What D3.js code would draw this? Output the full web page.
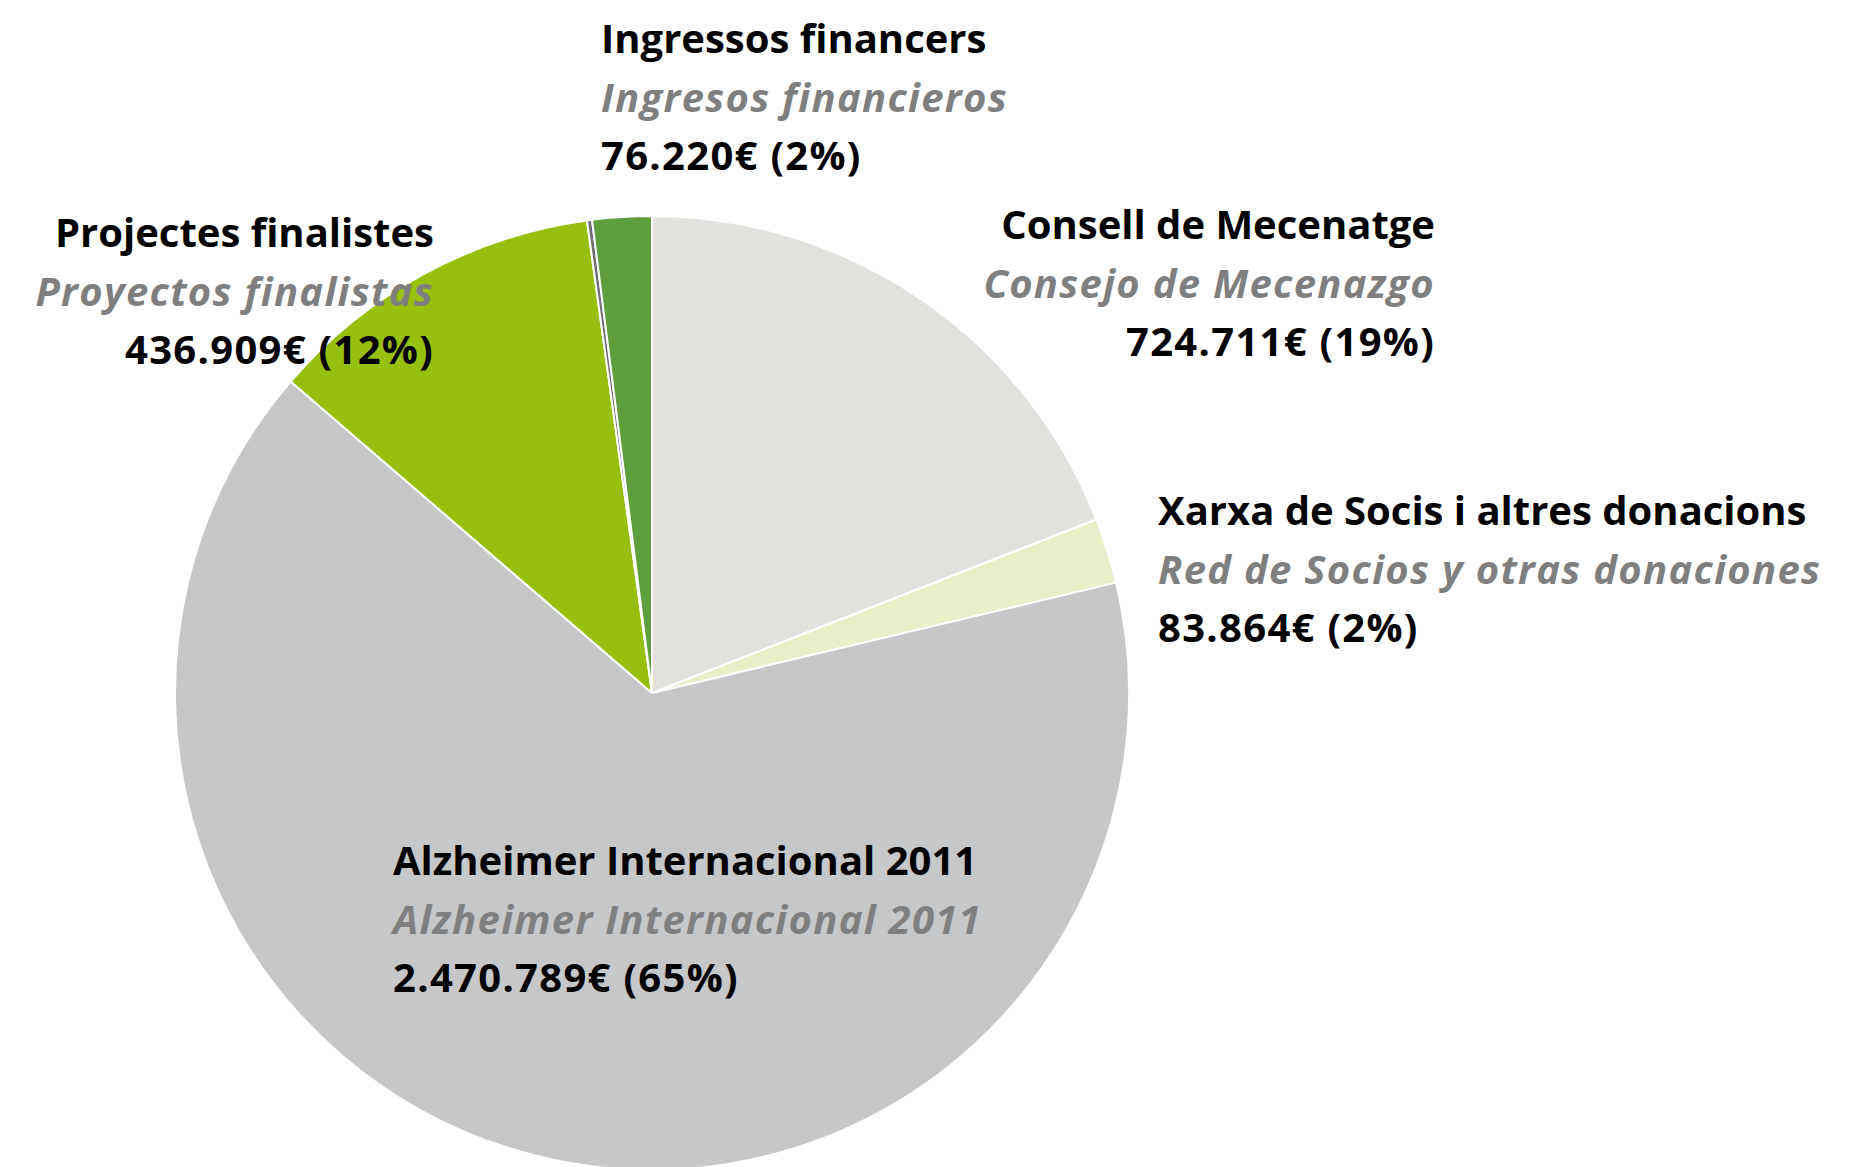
<!DOCTYPE html>
<html>
<head>
<meta charset="utf-8">
<script src="https://cdn.jsdelivr.net/npm/d3@7"></script>
<style>
  html, body { margin: 0; padding: 0; background: #fff; }
  svg text { font-family: "Open Sans", Lato, sans-serif; font-weight: 700; }
</style>
</head>
<body>
<div id="chart"></div>
<script>
// categories, clockwise from 12 o'clock
const categoriesCa = ["Consell de Mecenatge", "Xarxa de Socis i altres donacions", "Alzheimer Internacional 2011", "Projectes finalistes", "Altres", "Ingressos financers"];
const categoriesEs = ["Consejo de Mecenazgo", "Red de Socios y otras donaciones", "Alzheimer Internacional 2011", "Proyectos finalistas", "Otros", "Ingresos financieros"];
const values = [724711, 83864, 2470789, 436909, 6500, 76220];
const showLabel = [true, true, true, true, false, true];

const colors = ["#e3e1dd", "#e8eec8", "#c6c7c9", "#97bf0d", "#6d6e71", "#5f9e3c"];

// label placement (x, first baseline, anchor), same order as categories
const labelLayout = [
  { x: 1435, y: 239, anchor: "end" },
  { x: 1158, y: 525, anchor: "start" },
  { x: 393, y: 875, anchor: "start" },
  { x: 434, y: 247, anchor: "end" },
  null,
  { x: 601, y: 53, anchor: "start" }
];

const width = 1875, height = 1167;
const cx = 652, cy = 693, radius = 477;
const lineStep = 58.5;

const svg = d3.select("#chart")
  .append("svg")
    .attr("width", width)
    .attr("height", height);

const data = categoriesCa.map((c, i) => ({ ca: c, es: categoriesEs[i], value: values[i], i: i }));
const total = d3.sum(values);

const pie = d3.pie().value(d => d.value).sort(null);
const arc = d3.arc().innerRadius(0).outerRadius(radius);

const color = d3.scaleOrdinal().domain(categoriesCa).range(colors);

const g = svg.append("g")
  .attr("transform", "translate(" + cx + "," + cy + ")");

g.selectAll("path")
  .data(pie(data))
  .enter()
  .append("path")
    .attr("d", arc)
    .attr("fill", d => color(d.data.ca))
    .attr("stroke", "#fff")
    .attr("stroke-width", 2)
    .attr("stroke-linejoin", "round");

// 2.470.789€ style numbers
const locale = d3.formatLocale({ decimal: ",", thousands: ".", grouping: [3], currency: ["", "€"] });
const fmt = locale.format(",d");

const labels = svg.selectAll("g.label")
  .data(data.filter(d => showLabel[d.i]))
  .enter()
  .append("g")
    .attr("class", "label");

labels.each(function(d) {
  const pos = labelLayout[d.i];
  const gl = d3.select(this);
  // one text per line so the letter-spacing of a line doesn't shift the others
  const line = (k, txt, fill, italic, spacing) => gl.append("text")
    .attr("x", pos.x)
    .attr("y", pos.y + k * lineStep)
    .attr("text-anchor", pos.anchor)
    .attr("fill", fill)
    .style("font-size", "40px")
    .style("font-style", italic ? "italic" : "normal")
    .style("letter-spacing", spacing + "px")
    .text(txt);
  line(0, d.ca, "#000", false, 0);
  line(1, d.es, "#7f7f7f", true, 1.3);
  line(2, fmt(d.value) + "€ (" + Math.round(d.value / total * 100) + "%)", "#000", false, 1.3);
});
</script>
</body>
</html>
